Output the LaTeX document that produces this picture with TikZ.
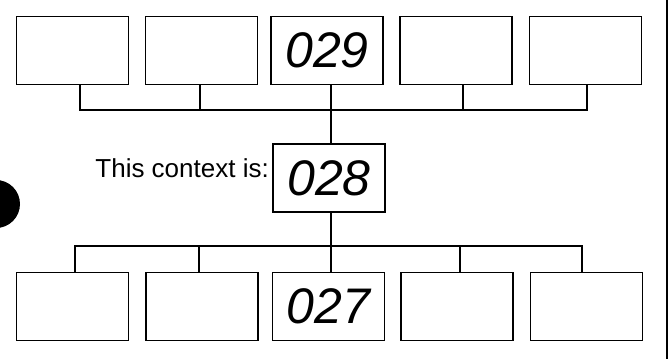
\documentclass[tikz,border=0pt]{standalone}
\usepackage{fontspec}
\setmainfont{Liberation Sans}
\usepackage{tikz}
\usetikzlibrary{calc}
\tikzset{
  ctxbox/.style={rectangle, draw=black, line width=1.8pt, fill=white,
                 minimum width=112pt, minimum height=68pt, inner sep=0pt},
  hand/.style={font=\fontsize{50}{50}\selectfont\itshape},
  bus/.style={line width=1.8pt, line join=miter},
  lbl/.style={font=\fontsize{26}{26}\selectfont, inner sep=0pt},
}
\begin{document}
\begin{tikzpicture}[x=1pt, y=-1pt]
  \useasboundingbox (0,0) rectangle (671,359);

  % upper row
  \node[ctxbox] (t1) at (72.5,50.5) {};
  \node[ctxbox] (t2) at (201.5,50.5) {};
  \node[ctxbox, hand] (t3) at (327,50.5) {029};
  \node[ctxbox] (t4) at (456,50.5) {};
  \node[ctxbox] (t5) at (585.5,50.5) {};

  % this context
  \node[ctxbox, hand] (m) at (329,178) {028};
  \node[lbl, anchor=east] (cap) at (269,168) {This context is:};

  % lower row
  \node[ctxbox] (b1) at (72.5,306.5) {};
  \node[ctxbox] (b2) at (202,306.5) {};
  \node[ctxbox, hand] (b3) at (328.5,306.5) {027};
  \node[ctxbox] (b4) at (457,306.5) {};
  \node[ctxbox] (b5) at (586.5,306.5) {};

  \coordinate (topbus) at (331,110);
  \coordinate (lowbus) at (331,246);

  \draw[bus] ([xshift=7.5pt]t1.south) |- (topbus) -| ([xshift=1.5pt]t5.south);
  \draw[bus] ([xshift=-1.5pt]t2.south) -- ([xshift=-1.5pt]t2.south |- topbus);
  \draw[bus] ([xshift=7pt]t4.south) -- ([xshift=7pt]t4.south |- topbus);
  \draw[bus] (topbus |- t3.south) -- (topbus |- m.north);
  \draw[bus] (lowbus |- m.south) -- (lowbus |- b3.north);
  \draw[bus] ([xshift=2.5pt]b1.north) |- (lowbus) -| ([xshift=-4.5pt]b5.north);
  \draw[bus] ([xshift=-3pt]b2.north) -- ([xshift=-3pt]b2.north |- lowbus);
  \draw[bus] ([xshift=3pt]b4.north) -- ([xshift=3pt]b4.north |- lowbus);

  % page edge and punch hole
  \draw[line width=2pt] (667,0) -- (667,359);
  \fill (-4,204) circle (24);
\end{tikzpicture}
\end{document}
